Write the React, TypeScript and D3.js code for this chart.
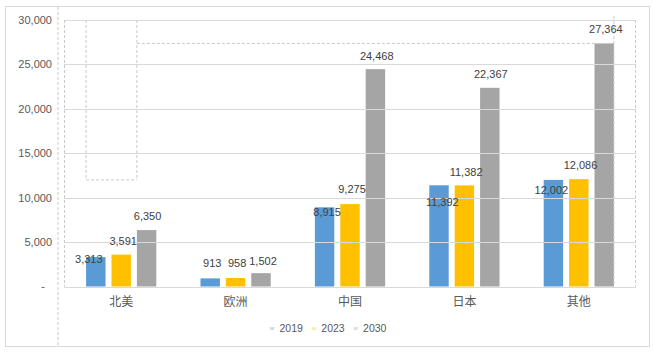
import * as d3 from "d3";

const categories = ["北美", "欧洲", "中国", "日本", "其他"];
const years = ["2019", "2023", "2030"];
const values2019 = [3313, 913, 8915, 11392, 12002];
const values2023 = [3591, 958, 9275, 11382, 12086];
const values2030 = [6350, 1502, 24468, 22367, 27364];
const yTicks = [0, 5000, 10000, 15000, 20000, 25000, 30000];

// label nudges (dx, dy from bar top to text centre), as Excel placed them
const labelNudge2019 = [[-7, 2], [2, -15], [2.5, 4.5], [3.3, 16.4], [-2, 10]];
const labelNudge2023 = [[2, -13.6], [1.5, -15], [2, -15], [1.7, -13.7], [1.7, -14]];
const labelNudge2030 = [[1, -14.4], [2, -12.5], [1.3, -13.4], [1, -13.5], [1.7, -14]];

const colors = ["#5B9BD5", "#FFC000", "#A5A5A5"];
const W = 654;
const H = 353;
const margin = { top: 20, right: 18, bottom: 66.5, left: 64 };
const numFont = "'Liberation Sans', Arial, sans-serif";
const cjkFont = "'Noto Sans CJK SC', sans-serif";

export default function App() {
	const series = [values2019, values2023, values2030];
	const nudges = [labelNudge2019, labelNudge2023, labelNudge2030];

	const x0 = d3
		.scaleBand<string>()
		.domain(categories)
		.range([margin.left, W - margin.right])
		.paddingInner(0.386)
		.paddingOuter(0.193);
	const x1 = d3
		.scaleBand<string>()
		.domain(years)
		.range([0, x0.bandwidth()])
		.paddingInner(0.235)
		.paddingOuter(0);
	const y = d3
		.scaleLinear()
		.domain([0, 30000])
		.range([H - margin.bottom, margin.top]);

	const fmt = d3.format(",");
	const left = margin.left;
	const right = W - margin.right;
	const bottom = y(0);

	const naLeft = (x0(categories[0]) ?? 0) + (x1(years[0]) ?? 0);
	const naGray = (x0(categories[0]) ?? 0) + (x1(years[2]) ?? 0);
	const otherGrayRight =
		(x0(categories[4]) ?? 0) + (x1(years[2]) ?? 0) + x1.bandwidth();
	const dash = { stroke: "#c9c9c9", strokeDasharray: "3,2", strokeWidth: 1, fill: "none" };

	return (
		<svg
			width={W}
			height={H}
			style={{ position: "absolute", left: 0, top: 0, background: "#fff" }}
		>
			<rect x={5.5} y={6.5} width={644} height={340} fill="#fff" stroke="#d9d9d9" />

			{/* bars */}
			{categories.map((c, i) => (
				<g key={c} transform={`translate(${x0(c)},0)`}>
					{series.map((s, j) => (
						<rect
							key={years[j]}
							x={x1(years[j])}
							y={y(s[i])}
							width={x1.bandwidth()}
							height={bottom - y(s[i])}
							fill={colors[j]}
						/>
					))}
				</g>
			))}

			{/* gridlines, drawn over the bars as in the source */}
			{yTicks.map((t) => (
				<line
					key={t}
					x1={left}
					x2={right}
					y1={Math.round(y(t)) + 0.5}
					y2={Math.round(y(t)) + 0.5}
					stroke="#d9d9d9"
				/>
			))}

			{/* y tick labels */}
			{yTicks.map((t) => (
				<text
					key={t}
					x={t === 0 ? 45 : 52}
					y={y(t)}
					dy="0.35em"
					textAnchor="end"
					fontFamily={numFont}
					fontSize={11}
					fill="#595959"
				>
					{t === 0 ? "-" : fmt(t)}
				</text>
			))}

			{/* stray dashed selection lines */}
			<line x1={left - 6} x2={left - 6} y1={7} y2={346} {...dash} />
			<line x1={left + 0.5} x2={left + 0.5} y1={y(30000)} y2={bottom} {...dash} />
			<line x1={right - 0.5} x2={right - 0.5} y1={y(30000)} y2={bottom} {...dash} />
			<line x1={naLeft} x2={naLeft} y1={y(30000)} y2={y(values2019[4])} {...dash} />
			<line x1={naGray} x2={naGray} y1={y(30000)} y2={y(values2019[4])} {...dash} />
			<line x1={naLeft} x2={naGray} y1={y(values2019[4])} y2={y(values2019[4])} {...dash} />
			<line x1={naGray} x2={otherGrayRight} y1={y(values2030[4])} y2={y(values2030[4])} {...dash} />
			<line x1={otherGrayRight} x2={otherGrayRight} y1={16} y2={bottom} {...dash} />

			{/* data labels */}
			{categories.map((c, i) =>
				series.map((s, j) => (
					<text
						key={`${c}-${j}`}
						x={(x0(c) ?? 0) + (x1(years[j]) ?? 0) + x1.bandwidth() / 2 + nudges[j][i][0]}
						y={y(s[i]) + nudges[j][i][1]}
						dy="0.35em"
						textAnchor="middle"
						fontFamily={numFont}
						fontSize={11}
						fill="#404040"
					>
						{fmt(s[i])}
					</text>
				)),
			)}

			{/* x axis labels */}
			{categories.map((c) => (
				<text
					key={c}
					x={(x0(c) ?? 0) + x0.bandwidth() / 2}
					y={bottom + 15.5}
					dy="0.35em"
					textAnchor="middle"
					fontFamily={cjkFont}
					fontSize={12}
					fill="#595959"
				>
					{c}
				</text>
			))}

			{/* legend */}
			{years.map((yr, j) => (
				<g key={yr} transform={`translate(${272 + j * 41.8},328)`}>
					<text
						x={0}
						y={0}
						dy="0.35em"
						textAnchor="middle"
						fontFamily={numFont}
						fontSize={6}
						fill={colors[j]}
						opacity={0.7}
					>
						w
					</text>
					<text
						x={7.5}
						y={0}
						dy="0.35em"
						fontFamily={numFont}
						fontSize={10.5}
						fill="#595959"
					>
						{yr}
					</text>
				</g>
			))}
		</svg>
	);
}
